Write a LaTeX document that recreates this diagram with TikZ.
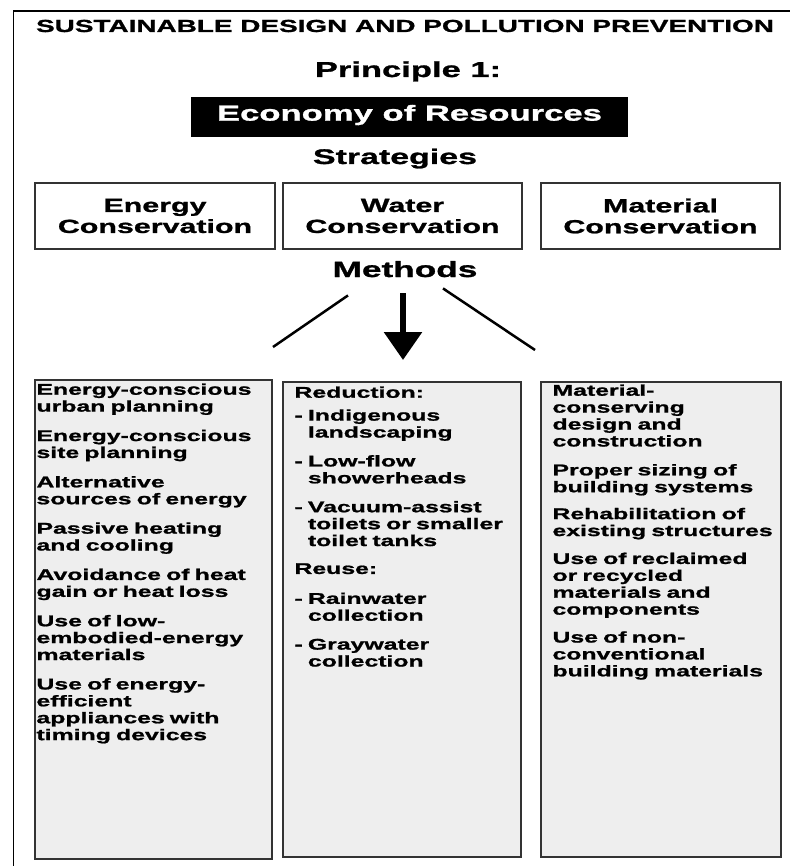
\documentclass[tikz,border=0pt]{standalone}
\usepackage{fontspec}
\setmainfont{Liberation Sans}[FakeStretch=1.6, FakeBold=1.2]
\usetikzlibrary{arrows.meta}

\definecolor{boxgray}{HTML}{EEEEEE}
\definecolor{edgegray}{HTML}{333333}

\begin{document}
\begin{tikzpicture}[x=1pt,y=-1pt,
    heading/.style={font=\bfseries\fontsize{#1}{#1}\selectfont, inner sep=0pt, anchor=base},
    stratbox/.style={draw=edgegray, line width=1.4pt, minimum width=239pt, minimum height=66pt,
      inner sep=0pt, align=center, font=\bfseries\fontsize{19}{21}\selectfont},
    listbox/.style={draw=edgegray, fill=boxgray, line width=1.4pt, inner sep=0pt},
    listtext/.style={anchor=north west, inner sep=0pt, text width=240pt, align=left,
      font=\bfseries\fontsize{15.5}{16.9}\selectfont},
    methodline/.style={line width=2.5pt}]
  \useasboundingbox (0,0) rectangle (790,866);
  \draw[line width=1.6pt] (13.5,866) -- (13.5,11) -- (790,11);

  \node[heading=17.45] (title) at (405,32) {SUSTAINABLE DESIGN AND POLLUTION PREVENTION};
  \node[heading=21.6] (principle) at (408,77) {Principle 1:};
  \node[fill=black, text=white, minimum width=437pt, minimum height=40pt, inner sep=0pt,
    text height=15.8pt, text depth=8.5pt, font=\bfseries\fontsize{21.65}{21.65}\selectfont]
    (economy) at (409.5,117) {Economy of Resources};
  \node[heading=21.2] (strategies) at (395,164) {Strategies};

  \node[stratbox, minimum width=240pt] (energy) at (155,216) {Energy\\Conservation};
  \node[stratbox] (water) at (402.5,216) {Water\\Conservation};
  \node[stratbox] (material) at (660.5,216) {Material\\Conservation};

  \node[heading=22] (methods) at (405,277) {Methods};
  \coordinate (leftend) at (273,347);
  \coordinate (rightend) at (535,350);
  \coordinate (arrowtip) at (403,360);
  \draw[methodline] ([shift={(-57,18)}]methods.south) -- (leftend);
  \draw[methodline] ([shift={(38,11)}]methods.south) -- (rightend);
  \draw[line width=6pt, -{Triangle[width=37pt,length=28pt]}] ([shift={(-2,16)}]methods.south) -- (arrowtip);

  \node[listbox, minimum width=237pt, minimum height=479pt] (energylist) at (153.5,619.5) {};
  \node[listbox, minimum width=238pt, minimum height=475pt] (waterlist) at (402,619.5) {};
  \node[listbox, minimum width=240pt, minimum height=475pt] (materiallist) at (661,619.5) {};

  \node[listtext] (energyitems) at ([shift={(2,4)}]energylist.north west)
    {Energy-conscious\\urban planning\\[12.5pt]
     Energy-conscious\\site planning\\[12.5pt]
     Alternative\\sources of energy\\[12.5pt]
     Passive heating\\and cooling\\[12.5pt]
     Avoidance of heat\\gain or heat loss\\[12.5pt]
     Use of low-\\embodied-energy\\materials\\[12.5pt]
     Use of energy-\\efficient\\appliances with\\timing devices};
  \node[listtext] (wateritems) at ([shift={(12,5)}]waterlist.north west)
    {Reduction:\\[6pt]
     -\ Indigenous\\\hphantom{-\ }landscaping\\[12pt]
     -\ Low-flow\\\hphantom{-\ }showerheads\\[12pt]
     -\ Vacuum-assist\\\hphantom{-\ }toilets or smaller\\\hphantom{-\ }toilet tanks\\[11pt]
     Reuse:\\[13pt]
     -\ Rainwater\\\hphantom{-\ }collection\\[12pt]
     -\ Graywater\\\hphantom{-\ }collection};
  \node[listtext] (materialitems) at ([shift={(12,3)}]materiallist.north west)
    {Material-\\conserving\\design and\\construction\\[12pt]
     Proper sizing of\\building systems\\[10pt]
     Rehabilitation of\\existing structures\\[11pt]
     Use of reclaimed\\or recycled\\materials and\\components\\[11pt]
     Use of non-\\conventional\\building materials};
\end{tikzpicture}
\end{document}
